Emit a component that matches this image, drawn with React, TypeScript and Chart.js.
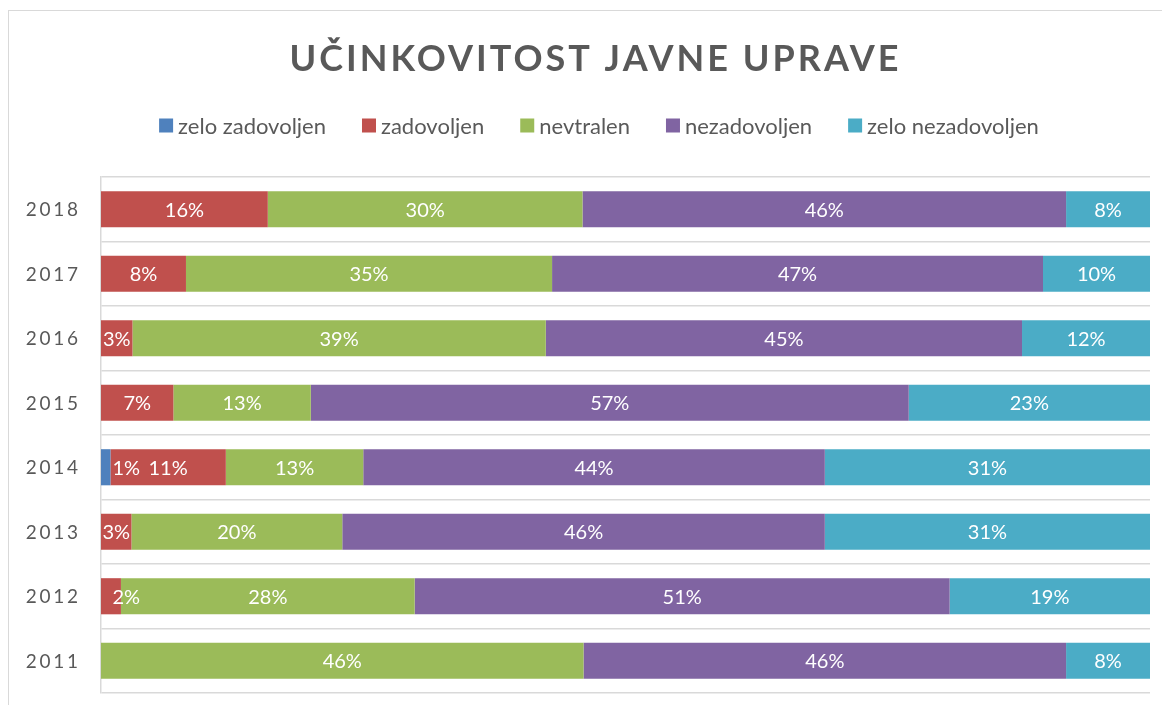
import React, { useEffect, useRef } from "react";
import { Chart, registerables } from "chart.js";

Chart.register(...registerables);

const categories = ["2018", "2017", "2016", "2015", "2014", "2013", "2012", "2011"];
const seriesNames = ["zelo zadovoljen", "zadovoljen", "nevtralen", "nezadovoljen", "zelo nezadovoljen"];
const seriesColors = ["#4F81BD", "#C0504D", "#9BBB59", "#8064A2", "#4BACC6"];
const zeloZadovoljen = [0, 0, 0, 0, 0.9, 0, 0, 0];
const zadovoljen = [15.9, 8.1, 3.0, 6.9, 11.0, 2.9, 1.9, 0];
const nevtralen = [30.0, 34.9, 39.4, 13.1, 13.1, 20.1, 28.0, 46.0];
const nezadovoljen = [46.1, 46.8, 45.4, 57.0, 44.0, 46.0, 51.0, 46.0];
const zeloNezadovoljen = [8.0, 10.2, 12.2, 23.0, 31.0, 31.0, 19.1, 8.0];
const titleText = "UČINKOVITOST JAVNE UPRAVE";

const FONT = "Lato, 'Open Sans', sans-serif";
const TEXT_COLOR = "#595959";

const overlayPlugin = {
  id: "overlay",
  afterDatasetsDraw(chart: any) {
    const ctx = chart.ctx as CanvasRenderingContext2D;
    ctx.save();
    ctx.font = `20px ${FONT}`;
    ctx.fillStyle = "#ffffff";
    ctx.textBaseline = "middle";
    ctx.textAlign = "left";
    chart.data.datasets.forEach((ds: any, i: number) => {
      const meta = chart.getDatasetMeta(i);
      meta.data.forEach((bar: any, j: number) => {
        const v = ds.data[j];
        if (!v) return;
        const p = bar.getProps(["x", "y", "base"], true);
        const left = Math.min(p.x, p.base);
        const right = Math.max(p.x, p.base);
        const text = Math.round(v) + "%";
        const w = ctx.measureText(text).width;
        let sx = (left + right) / 2 - w / 2;
        if (w > right - left) sx = left + 11.5;
        ctx.fillText(text, sx, p.y + 1);
      });
    });
    ctx.restore();
  },
  afterDraw(chart: any) {
    const ctx = chart.ctx as CanvasRenderingContext2D;
    const area = chart.chartArea;
    ctx.save();
    // Title
    ctx.fillStyle = TEXT_COLOR;
    ctx.textBaseline = "middle";
    ctx.font = `bold 36px ${FONT}`;
    (ctx as any).letterSpacing = "3px";
    ctx.textAlign = "left";
    const tw = ctx.measureText(titleText).width - 3;
    ctx.fillText(titleText, 585 - tw / 2, 48.5);

    // Legend
    (ctx as any).letterSpacing = "0px";
    ctx.font = `22px ${FONT}`;
    const box = 14;
    const gapBoxText = 5;
    const gapItems = 36;
    const widths = seriesNames.map((n) => ctx.measureText(n).width);
    const total =
      widths.reduce((a, b) => a + b + box + gapBoxText, 0) + gapItems * (seriesNames.length - 1);
    let x = 590 - total / 2;
    const ly = 114.5;
    seriesNames.forEach((n, i) => {
      ctx.fillStyle = seriesColors[i];
      ctx.fillRect(x, ly - box / 2, box, box);
      ctx.fillStyle = TEXT_COLOR;
      ctx.fillText(n, x + box + gapBoxText, ly + 1);
      x += box + gapBoxText + widths[i] + gapItems;
    });

    // Y labels
    const yScale = chart.scales.y;
    ctx.font = `19px ${FONT}`;
    (ctx as any).letterSpacing = "2.7px";
    ctx.textAlign = "right";
    categories.forEach((c, i) => {
      const yy = yScale.getPixelForValue(i);
      ctx.fillText(c, area.left - 23 + 2.7, yy + 1);
    });
    ctx.restore();
  },
};

export default function App() {
  const canvasRef = useRef<HTMLCanvasElement | null>(null);

  useEffect(() => {
    if (!canvasRef.current) return;
    const data = [zeloZadovoljen, zadovoljen, nevtralen, nezadovoljen, zeloNezadovoljen];
    const chart = new Chart(canvasRef.current, {
      type: "bar",
      data: {
        labels: categories,
        datasets: seriesNames.map((name, i) => ({
          label: name,
          data: data[i],
          backgroundColor: seriesColors[i],
          borderWidth: 0,
          barPercentage: 0.56,
          categoryPercentage: 1,
        })),
      },
      plugins: [overlayPlugin],
      options: {
        indexAxis: "y",
        animation: false,
        responsive: false,
        maintainAspectRatio: false,
        layout: { padding: { top: 166, right: 12, bottom: 14, left: 0 } },
        plugins: {
          legend: { display: false },
          title: { display: false },
          tooltip: { enabled: false },
        },
        scales: {
          x: { stacked: true, min: 0, max: 100, display: false },
          y: {
            stacked: true,
            grid: { display: true, color: "#d9d9d9", lineWidth: 1.5, offset: true, drawTicks: false },
            border: { display: true, color: "#d9d9d9", width: 1.5 },
            ticks: { display: false },
            afterFit: (scale: any) => {
              scale.width = 92;
            },
          },
        },
      },
    } as any);
    return () => chart.destroy();
  }, []);

  return (
    <div
      style={{
        position: "relative",
        left: -1,
        top: 2,
        borderLeft: "2px solid #d9d9d9",
        borderTop: "1px solid #d9d9d9",
        width: 1153,
        height: 696,
      }}
    >
      <canvas ref={canvasRef} width={1153} height={696} style={{ display: "block" }} />
    </div>
  );
}
